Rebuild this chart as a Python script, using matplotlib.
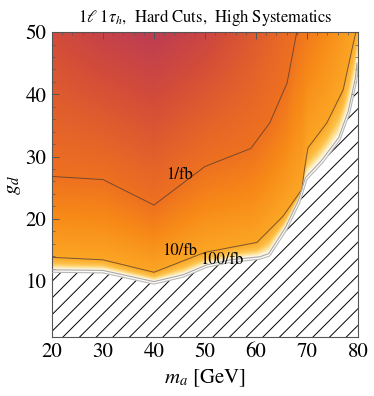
import numpy as np
import matplotlib
matplotlib.use("Agg")
import matplotlib.pyplot as plt
from matplotlib.colors import LinearSegmentedColormap
from matplotlib.ticker import MultipleLocator

plt.rcParams['font.family'] = 'STIXGeneral'
plt.rcParams['mathtext.fontset'] = 'stix'
plt.rcParams['hatch.linewidth'] = 0.7

# contour curves (m_a [GeV], g_d)
m_1fb = [20, 30, 40, 50, 59, 62.7, 66.1, 68]
g_1fb = [26.8, 26.3, 22.2, 28.4, 31.3, 35.4, 41.8, 50]

m_10fb = [20, 30, 40, 50, 60.2, 65.3, 69, 69.6, 70.2, 73.9, 77.1, 78.8, 79.6]
g_10fb = [13.8, 13.4, 11.4, 14.6, 16.2, 20.4, 24.7, 28.4, 31.4, 35.4, 40.7, 47.1, 50]

m_100fb = [20, 30, 40, 45.7, 50.4, 55, 60.8, 62.5, 65.8, 68.3, 69.7, 72.8, 76.2, 78.1, 79.5, 79.8]
g_100fb = [11.8, 11.7, 9.9, 11.0, 12.6, 13.4, 13.9, 14.4, 18.6, 22.9, 26.6, 29.3, 33.0, 37.3, 42.6, 45.0]

m_bnd = [20, 30, 40, 45.7, 50.4, 55, 60.8, 62.7, 66.1, 68.6, 70, 73.1, 76.5, 78.4, 79.8, 80]
g_bnd = [11.4, 11.3, 9.5, 10.6, 12.2, 13.0, 13.5, 14.0, 18.3, 22.6, 26.3, 29.0, 32.7, 37.0, 42.3, 44.7]

# log10(L / fb^-1) along the top edge (from colour)
m_top = [20, 30, 40, 50, 60, 68, 74, 79.6, 80]
v_top = [-0.6, -0.85, -1.0, -0.75, -0.35, 0, 0.5, 1.0, 1.3]

levels = [0, 1, 2, 2.1]
curves = [(m_1fb, g_1fb), (m_10fb, g_10fb), (m_100fb, g_100fb), (m_bnd, g_bnd)]

xs = np.linspace(20, 80, 300)
ys = np.linspace(1, 50, 300)
Z = np.zeros((len(ys), len(xs)))
for i, x in enumerate(xs):
    ky, kv = [], []
    for (cm, cg), lv in zip(curves, levels):
        yc = np.interp(x, cm, cg)
        if yc < 50:
            ky.append(yc)
            kv.append(lv)
    ky.append(50.0)
    kv.append(np.interp(x, m_top, v_top))
    order = np.argsort(ky)
    Z[:, i] = np.interp(ys, np.array(ky)[order], np.array(kv)[order])

cmap = LinearSegmentedColormap.from_list('lum', [
    (0.00, '#bd3d52'),
    (0.12, '#d34c3a'),
    (0.30, '#ee7020'),
    (0.45, '#f78a17'),
    (0.62, '#fca826'),
    (0.76, '#fdc048'),
    (0.84, '#fee296'),
    (0.90, '#fffaf0'),
    (1.00, '#ffffff'),
])

fig = plt.figure(figsize=(3.74, 3.96), dpi=100)
ax = fig.add_axes([0.139, 0.149, 0.818, 0.770])
ax.imshow(Z, extent=[20, 80, 1, 50], origin='lower', aspect='auto',
          cmap=cmap, vmin=-1.0, vmax=2.3, interpolation='bilinear')

ax.fill_between(m_bnd, 1, g_bnd, facecolor='white', edgecolor='black',
                hatch='//', linewidth=0, zorder=2)

ax.plot(m_1fb, g_1fb, color='#5a4030', lw=0.7, alpha=0.8, zorder=3)
ax.plot(m_10fb, g_10fb, color='#5a4030', lw=0.7, alpha=0.8, zorder=3)
ax.plot(m_100fb, g_100fb, color='#a8a8a8', lw=0.8, zorder=3)
ax.plot(m_bnd, g_bnd, color='#b8b8b8', lw=0.8, zorder=3)

ax.text(45.1, 27.1, '1/fb', fontsize=12, ha='center', va='center', zorder=4)
ax.text(45.1, 14.8, '10/fb', fontsize=12, ha='center', va='center', zorder=4)
ax.text(53.3, 13.3, '100/fb', fontsize=12, ha='center', va='center', zorder=4)

ax.set_xlim(20, 80)
ax.set_ylim(1, 50)
ax.xaxis.set_major_locator(MultipleLocator(10))
ax.xaxis.set_minor_locator(MultipleLocator(2))
ax.yaxis.set_major_locator(MultipleLocator(10))
ax.yaxis.set_minor_locator(MultipleLocator(2))
ax.tick_params(which='both', direction='in', top=True, right=True,
               color='#555555', labelsize=15)
ax.tick_params(which='major', length=5, width=0.7, pad=4)
ax.tick_params(which='minor', length=2.5, width=0.5)
for s in ax.spines.values():
    s.set_color('#555555')
    s.set_linewidth(0.8)

ax.set_xlabel('$m_a$ [GeV]', fontsize=15, labelpad=4)
ax.set_ylabel('$g_d$', fontsize=15, labelpad=2)
ax.set_title(r'$1\ell\ 1\tau_h$,  Hard Cuts,  High Systematics', fontsize=12, pad=7)

fig.savefig('out.png', dpi=100)
